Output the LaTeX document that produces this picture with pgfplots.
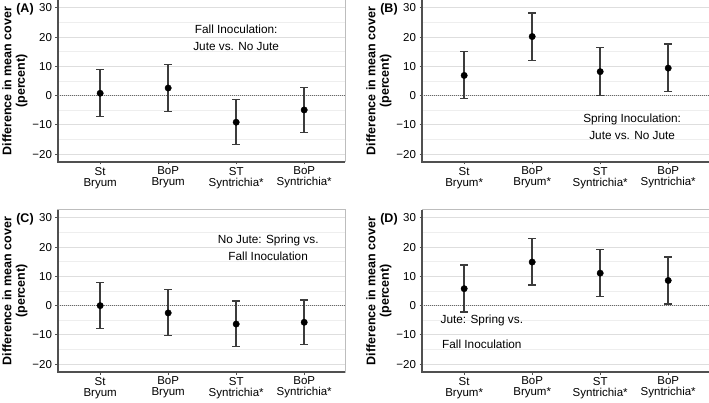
\documentclass[border=0pt]{standalone}
\usepackage{pgfplots}
\pgfplotsset{compat=1.18}
\usepackage{fontspec}
\setmainfont{Liberation Sans}
\definecolor{barcol}{HTML}{3C3C3C}
\definecolor{axdark}{HTML}{505050}
\definecolor{axlight}{HTML}{BDBDBD}
\definecolor{gridmaj}{HTML}{DEDEDE}
\definecolor{gridmin}{HTML}{EEEEEE}
\definecolor{zerocol}{HTML}{686868}

\pgfplotsset{
  panel/.style={
    scale only axis, width=287pt, height=162pt,
    anchor=south west,
    xmin=0.38, xmax=4.6, ymin=-22.7, ymax=32.7,
    axis line style={draw=axlight, line width=1pt},
    xtick={1,2,3,4},
    ytick={-20,-10,0,10,20,30},
    yticklabels={−20,−10,0,10,20,30},
    minor ytick={-15,-5,5,15,25},
    ymajorgrids, yminorgrids,
    major grid style={draw=gridmaj, line width=0.9pt},
    minor grid style={draw=gridmin, line width=0.7pt},
    tick align=outside, major tick length=2.5pt, minor tick length=0pt,
    tick style={draw=axdark, line width=0.9pt},
    xtick pos=bottom, ytick pos=left,
    /pgf/number format/assume math mode=true,
    tick label style={font=\fontsize{11.5}{11}\selectfont},
    xticklabel style={align=center, yshift=1pt},
    yticklabel style={xshift=0pt},
    ylabel={Difference in mean cover\\(percent)},
    ylabel style={font=\fontsize{12.5}{13.5}\selectfont\bfseries, align=center,
      at={(axis description cs:-0.15,0.5)}, anchor=center, rotate=0},
    clip=false,
  },
  panelB/.style={
    panel,
    xticklabels={St\\Bryum*, BoP\\Bryum*, ST\\Syntrichia*, BoP\\Syntrichia*},
  },
  panelA/.style={
    panel,
    xticklabels={St\\Bryum, BoP\\Bryum, ST\\Syntrichia*, BoP\\Syntrichia*},
  },
  ci/.style={
    only marks, mark=*, mark size=3.2pt,
    mark options={fill=black, draw=black},
    error bars/.cd, y dir=both, y explicit,
    error bar style={draw=barcol, line width=1.5pt},
    error mark options={draw=barcol, line width=1.4pt, mark size=3.8pt, rotate=90},
  },
}
\newcommand{\axframe}{%
  \draw[axdark, line width=1.1pt] (rel axis cs:0,1) -- (rel axis cs:0,0) -- (rel axis cs:1,0);
  \addplot[zerocol, line width=1.6pt, dash pattern=on 1.1pt off 0.9pt] coordinates {(0.38,0) (4.6,0)};
}
\newcommand{\annfont}{\fontsize{11.8}{16.5}\selectfont}

\begin{document}
\begin{tikzpicture}
\useasboundingbox (0,0) rectangle (709pt,402pt);

% (A)
\begin{axis}[panelA, at={(58pt,240pt)}]
\axframe
\addplot[ci] table[x=x, y=y, y error plus=ep, y error minus=em] {
x y ep em
1 0.8 8.1 8.0
2 2.6 8.1 8.0
3 -9.1 7.8 7.7
4 -4.9 7.6 7.7
};
\node[align=center, font=\annfont] at (axis cs:3.0,19.7) {Fall Inoculation:\\Jute vs. No Jute};
\node[font=\fontsize{12.5}{12.5}\selectfont\bfseries] at (axis description cs:-0.115,0.94) {(A)};
\end{axis}

% (B)
\begin{axis}[panelB, at={(422pt,240pt)}]
\axframe
\addplot[ci] table[x=x, y=y, y error plus=ep, y error minus=em] {
x y ep em
1 6.9 8.1 7.9
2 20.2 8.0 8.1
3 8.2 8.3 8.1
4 9.4 8.2 7.9
};
\node[align=center, font=\annfont] at (axis cs:3.47,-10.6) {Spring Inoculation:\\Jute vs. No Jute};
\node[font=\fontsize{12.5}{12.5}\selectfont\bfseries] at (axis description cs:-0.115,0.94) {(B)};
\end{axis}

% (C)
\begin{axis}[panelA, at={(58pt,30pt)}]
\axframe
\addplot[ci] table[x=x, y=y, y error plus=ep, y error minus=em] {
x y ep em
1 0.0 8.0 7.9
2 -2.5 8.1 7.8
3 -6.3 7.9 7.7
4 -5.7 7.6 7.5
};
\node[align=center, font=\annfont] at (axis cs:3.47,19.8) {No Jute: Spring vs.\\Fall Inoculation};
\node[font=\fontsize{12.5}{12.5}\selectfont\bfseries] at (axis description cs:-0.115,0.94) {(C)};
\end{axis}

% (D)
\begin{axis}[panelB, at={(422pt,30pt)}]
\axframe
\addplot[ci] table[x=x, y=y, y error plus=ep, y error minus=em] {
x y ep em
1 5.8 8.1 8.0
2 14.9 8.0 7.8
3 11.1 8.1 8.0
4 8.6 8.0 8.0
};
\node[align=center, font=\fontsize{11.8}{25}\selectfont] at (axis cs:1.26,-8.9) {Jute: Spring vs.\\Fall Inoculation};
\node[font=\fontsize{12.5}{12.5}\selectfont\bfseries] at (axis description cs:-0.115,0.94) {(D)};
\end{axis}
\end{tikzpicture}
\end{document}
